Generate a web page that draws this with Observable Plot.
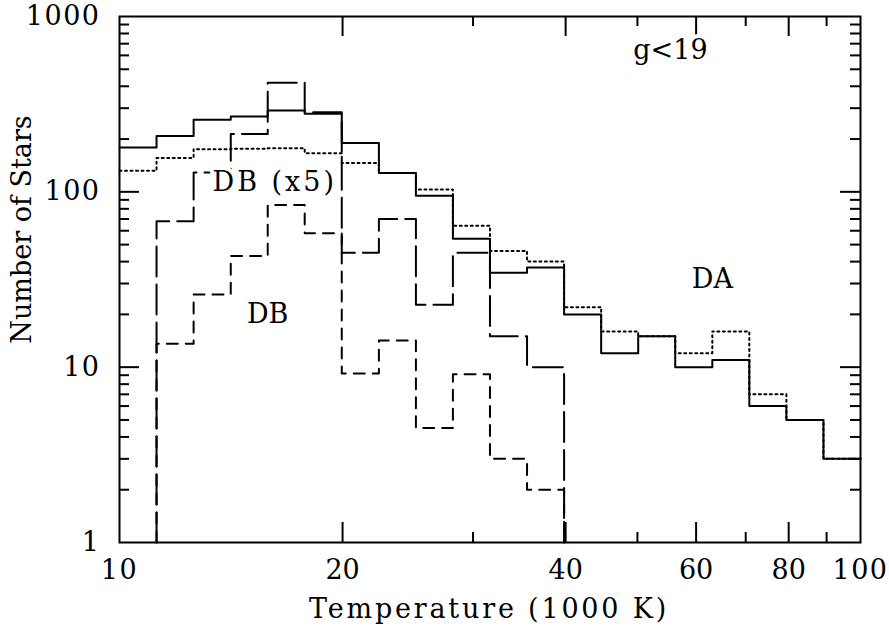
<!DOCTYPE html>
<html>
<head>
<meta charset="utf-8">
<script src="https://cdn.jsdelivr.net/npm/d3@7"></script>
<script src="https://cdn.jsdelivr.net/npm/@observablehq/plot@0.6"></script>
<style>
  html, body { margin: 0; padding: 0; background: #fff; }
</style>
</head>
<body>
<div id="chart"></div>
<script>
// Bin edges (1000 K), equal steps in log T
const binEdges = [10, 11.22, 12.59, 14.13, 15.85, 17.78, 19.95, 22.39, 25.12, 28.18, 31.62,
                  35.48, 39.81, 44.67, 50.12, 56.23, 63.10, 70.79, 79.43, 89.13, 100];

// DA, full sample (solid)
const daAll   = [179, 208, 258, 269, 291, 279, 190, 128, 95, 54, 34.5, 37, 20, 12, 15, 10, 11, 6, 5, 3];
// DA, second sample (dotted)
const daOther = [132, 156, 175, 176, 177, 166, 146, 128, 103, 64, 46, 40, 22, 16, 15, 12, 16, 7, 5, 3];
// DB x5 (long dashed), starting at bin 1
const dbScaled = [68, 129, 214, 419, 284, 45, 70, 22.7, 45, 15, 10];
// DB (short dashed), starting at bin 1
const dbCounts = [13.6, 26, 43, 84, 58, 9.2, 14.2, 4.5, 9.1, 3.0, 2.0];
const dbFirstBin = 1;

// Axis ticks
const xTickLabels = [10, 20, 40, 60, 80, 100];
const xMajorTicks = [20, 40, 60, 80];
const xMinorTicks = [30, 50, 70, 90];
const yTickLabels = [1, 10, 100, 1000];
const yMajorTicks = [10, 100];
const yMinorTicks = [2, 3, 4, 5, 6, 7, 8, 9, 20, 30, 40, 50, 60, 70, 80, 90, 200, 300, 400, 500, 600, 700, 800, 900];

// Annotations (data coordinates)
const noteText = ["g<19", "DB (x5)", "DB", "DA"];
const noteX = [55.4, 16.2, 15.85, 63.1];
const noteY = [640, 113, 20, 31.6];

const xLabel = "Temperature (1000 K)";
const yLabel = "Number of Stars";

function fullSteps(values) {
  return binEdges.map((e, i) => ({x: e, y: values[Math.min(i, values.length - 1)]}));
}
function partialSteps(values, first) {
  const rows = [{x: binEdges[first], y: 1}];
  values.forEach((v, i) => rows.push({x: binEdges[first + i], y: v}));
  const last = first + values.length;
  rows.push({x: binEdges[last], y: values[values.length - 1]});
  rows.push({x: binEdges[last], y: 1});
  return rows;
}
const notes = noteText.map((t, i) => ({text: t, x: noteX[i], y: noteY[i]}));

const W = 889, H = 631, mL = 119, mR = 29, mT = 16, mB = 89;
const innerW = W - mL - mR, innerH = H - mT - mB;
const FONT = "DejaVu Serif";

const chart = Plot.plot({
  width: W, height: H,
  marginLeft: mL, marginRight: mR, marginTop: mT, marginBottom: mB,
  style: {fontFamily: FONT, background: "#fff", color: "#000"},
  x: {type: "log", domain: [10, 100], axis: null},
  y: {type: "log", domain: [1, 1000], axis: null},
  marks: [
    Plot.line(fullSteps(daOther), {x: "x", y: "y", curve: "step-after", stroke: "#000", strokeWidth: 2, strokeDasharray: "2,3.5"}),
    Plot.line(partialSteps(dbCounts, dbFirstBin), {x: "x", y: "y", curve: "step-after", stroke: "#000", strokeWidth: 2, strokeDasharray: "11,8"}),
    Plot.line(partialSteps(dbScaled, dbFirstBin), {x: "x", y: "y", curve: "step-after", stroke: "#000", strokeWidth: 2, strokeDasharray: "30,8"}),
    Plot.line(fullSteps(daAll), {x: "x", y: "y", curve: "step-after", stroke: "#000", strokeWidth: 2}),
    // ticks bottom / top
    Plot.tickX(xMajorTicks, {x: d => d, insetTop: innerH - 20, strokeWidth: 2}),
    Plot.tickX(xMinorTicks, {x: d => d, insetTop: innerH - 10, strokeWidth: 2}),
    Plot.tickX(xMajorTicks, {x: d => d, insetBottom: innerH - 20, strokeWidth: 2}),
    Plot.tickX(xMinorTicks, {x: d => d, insetBottom: innerH - 10, strokeWidth: 2}),
    // ticks left / right
    Plot.tickY(yMajorTicks, {y: d => d, insetRight: innerW - 20, strokeWidth: 2}),
    Plot.tickY(yMinorTicks, {y: d => d, insetRight: innerW - 10, strokeWidth: 2}),
    Plot.tickY(yMajorTicks, {y: d => d, insetLeft: innerW - 20, strokeWidth: 2}),
    Plot.tickY(yMinorTicks, {y: d => d, insetLeft: innerW - 10, strokeWidth: 2}),
    Plot.frame({stroke: "#000", strokeWidth: 2}),
    Plot.axisX(xTickLabels, {anchor: "bottom", tickSize: 0, tickPadding: 17, fontSize: 27, fontFamily: FONT, tickFormat: d => String(d), label: null}),
    Plot.axisY(yTickLabels, {anchor: "left", tickSize: 0, tickPadding: 19, fontSize: 27, fontFamily: FONT, tickFormat: d => String(d), label: null}),
    Plot.text([xLabel], {frameAnchor: "bottom", dy: 67, dx: -1, fontSize: 27, fontFamily: FONT, textAnchor: "middle", lineAnchor: "middle", fill: "#000"}),
    Plot.text([yLabel], {frameAnchor: "left", rotate: -90, dx: -97, dy: -50, fontSize: 27, fontFamily: FONT, textAnchor: "middle", lineAnchor: "middle", fill: "#000"}),
    Plot.text(notes, {x: "x", y: "y", text: "text", fontSize: 27, fontFamily: FONT, fill: "#000",
                      stroke: "#fff", strokeWidth: 8, paintOrder: "stroke", lineAnchor: "middle"})
  ]
});
document.getElementById("chart").appendChild(chart);

// Wider letter spacing, as in the original plotting font
const spacing = new Map([[xLabel, "2.8px"], ["DB (x5)", "3px"]]);
d3.select(chart).selectAll("text").each(function () {
  const s = spacing.get(this.textContent);
  if (s) this.style.letterSpacing = s;
});
d3.select(chart).selectAll("text").filter(function () {
  return yTickLabels.map(String).includes(this.textContent) && this.getAttribute("text-anchor") !== "middle";
}).style("letter-spacing", "1.5px");
</script>
</body>
</html>
